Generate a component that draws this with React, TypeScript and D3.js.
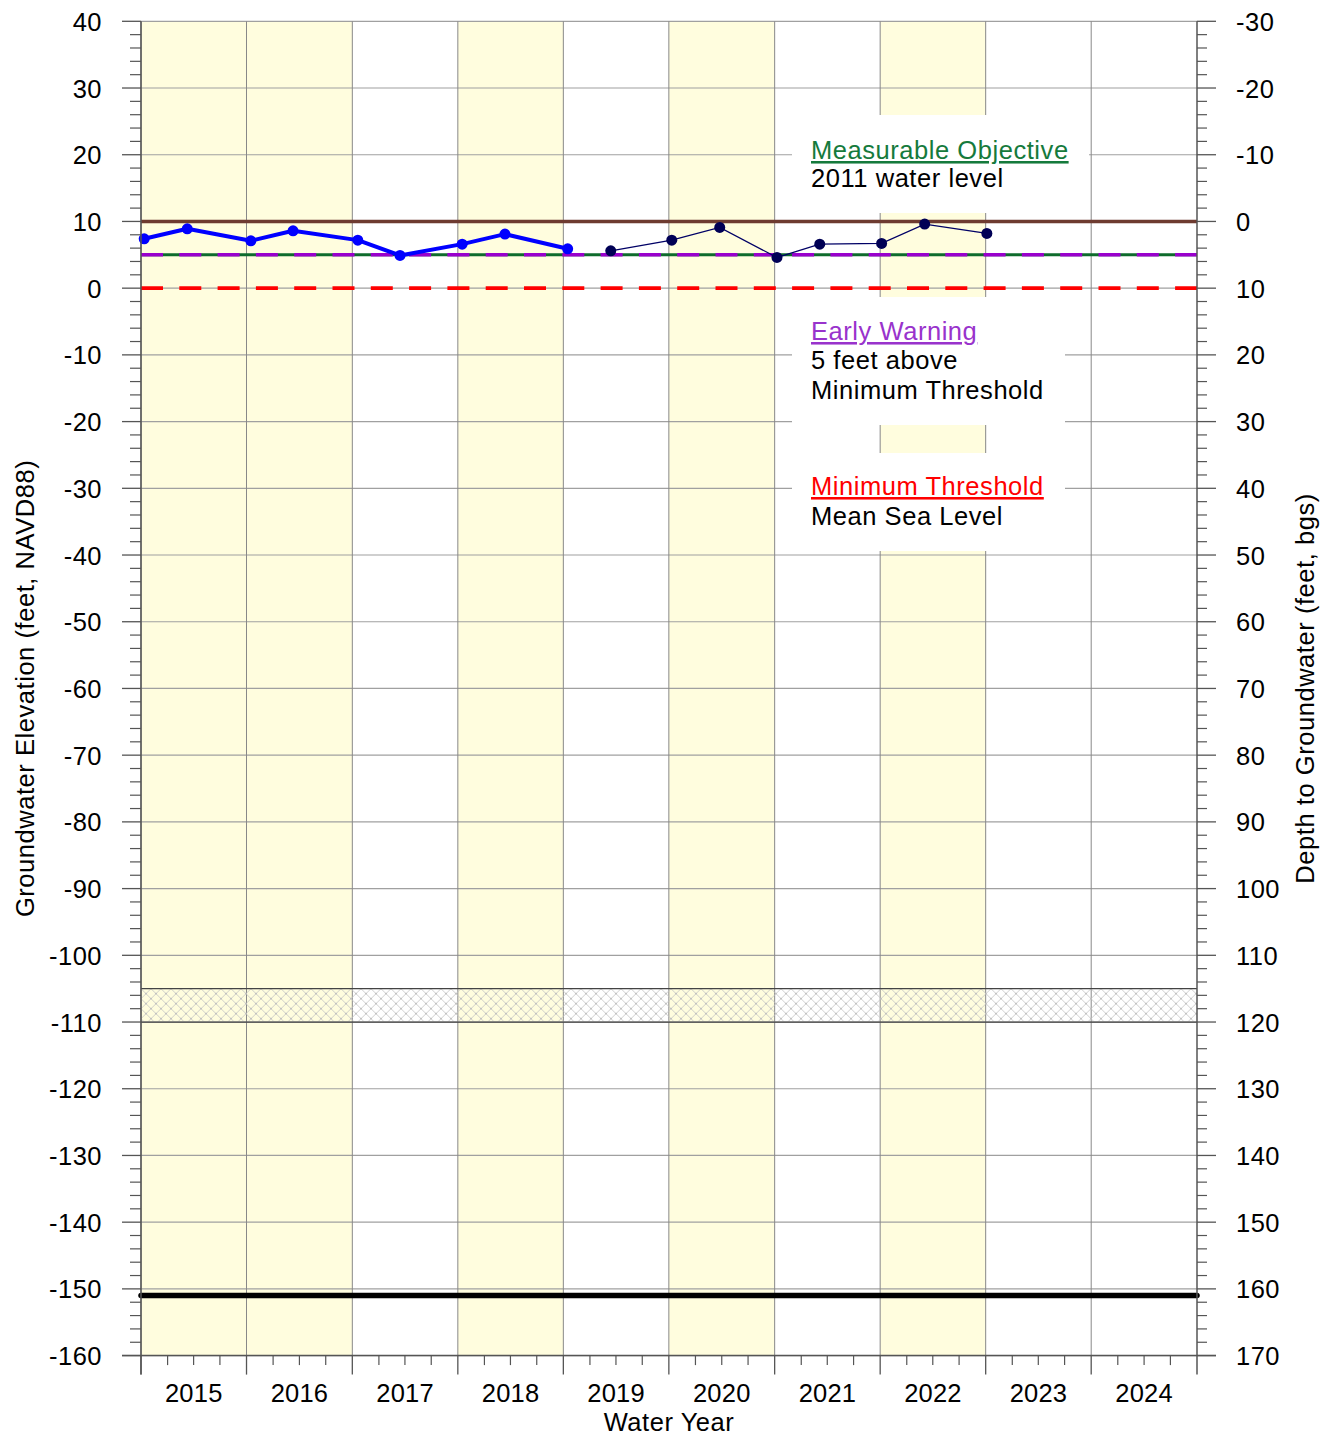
import React from "react";
import * as d3 from "d3";

const waterYears = [2015, 2016, 2017, 2018, 2019, 2020, 2021, 2022, 2023, 2024];
const shadedYears = [2015, 2016, 2018, 2020, 2022];

const series1Dates = ["2014-10-12", "2015-03-10", "2015-10-16", "2016-03-10", "2016-10-20", "2017-03-15", "2017-10-16", "2018-03-13", "2018-10-16"];
const series1Values = [7.4, 8.9, 7.1, 8.6, 7.2, 4.9, 6.6, 8.1, 5.9];

const series2Dates = ["2019-03-14", "2019-10-11", "2020-03-25", "2020-10-09", "2021-03-06", "2021-10-06", "2022-03-04", "2022-10-05"];
const series2Values = [5.6, 7.2, 9.1, 4.6, 6.6, 6.7, 9.6, 8.2];

const measurableObjective = 5;
const earlyWarning = 5;
const minimumThreshold = 0;
const groundSurface = 10;
const wellBottom = -151;
const screenTop = -105;
const screenBottom = -110;

const yDomain = [-160, 40];
const yMajorTicks = d3.range(-160, 41, 10);
const yMinorTicks = d3.range(-160, 41, 2);

const W = 1321;
const H = 1435;
const L = 141;
const R = 1197;
const T = 21.3;
const B = 1355.6;

const FONT = "Liberation Sans, Arial, sans-serif";

export default function App() {
  const parse = d3.timeParse("%Y-%m-%d");
  const x = d3.scaleTime().domain([new Date(2014, 9, 1), new Date(2024, 9, 1)]).range([L, R]);
  const y = d3.scaleLinear().domain(yDomain).range([B, T]);
  const depth = (v: number) => groundSurface - v;

  const yearStart = (wy: number) => new Date(wy - 1, 9, 1);
  const yearEnd = (wy: number) => new Date(wy, 9, 1);

  const s1 = series1Dates.map((d, i) => ({ d: parse(d) as Date, v: series1Values[i] }));
  const s2 = series2Dates.map((d, i) => ({ d: parse(d) as Date, v: series2Values[i] }));
  const line = d3.line<{ d: Date; v: number }>().x((p) => x(p.d)).y((p) => y(p.v));

  const quarterTicks: Date[] = [];
  waterYears.forEach((wy) => {
    [0, 3, 6].forEach((m) => quarterTicks.push(new Date(wy, m, 1)));
  });

  const gridColor = "#a0a0a0";
  const axisColor = "#555";
  const fs = 25.5;
  const ls = 0.55;

  const hline = (v: number) => y(v);

  return (
    <svg width={W} height={H} style={{ position: "absolute", left: 0, top: 0, background: "#fff" }} fontFamily={FONT}>
      <defs>
        <pattern id="hatch" width="10" height="10" patternUnits="userSpaceOnUse" x={L} y={y(screenTop)}>
          <path d="M0,0 L10,10 M10,0 L0,10" stroke="#c4c4c4" strokeWidth="0.8" fill="none" />
          <circle cx="5" cy="5" r="0.9" fill="#bbb" />
          <circle cx="0" cy="0" r="0.9" fill="#bbb" />
          <circle cx="10" cy="0" r="0.9" fill="#bbb" />
          <circle cx="0" cy="10" r="0.9" fill="#bbb" />
          <circle cx="10" cy="10" r="0.9" fill="#bbb" />
        </pattern>
      </defs>
      <rect x={0} y={0} width={W} height={H} fill="#fff" />
      {shadedYears.map((wy) => (
        <rect key={wy} x={x(yearStart(wy))} y={T} width={x(yearEnd(wy)) - x(yearStart(wy))} height={B - T} fill="#FFFDDE" />
      ))}
      {yMajorTicks.map((t) => (
        <line key={"hg" + t} x1={L} x2={R} y1={y(t)} y2={y(t)} stroke={gridColor} strokeWidth={1.2} />
      ))}
      {waterYears.map((wy) => (
        <line key={"vg" + wy} x1={x(yearStart(wy))} x2={x(yearStart(wy))} y1={T} y2={B} stroke="#888" strokeWidth={1} />
      ))}
      <rect x={L} y={y(screenTop)} width={R - L} height={y(screenBottom) - y(screenTop)} fill="url(#hatch)" />
      <line x1={L} x2={R} y1={y(screenTop)} y2={y(screenTop)} stroke="#444" strokeWidth={1.3} />
      <line x1={L} x2={R} y1={y(screenBottom)} y2={y(screenBottom)} stroke="#444" strokeWidth={1.3} />

      <rect x={792} y={115} width={297} height={98} fill="#fff" />
      <rect x={792} y={297} width={273} height={128} fill="#fff" />
      <rect x={792} y={453} width={273} height={98} fill="#fff" />
      <g fontSize={fs} letterSpacing={ls}>
        <text x={811} y={159} fill="#157A3C" textDecoration="underline">Measurable Objective</text>
        <text x={811} y={187} fill="#000">2011 water level</text>
        <text x={811} y={340} fill="#9933CC" textDecoration="underline">Early Warning</text>
        <text x={811} y={369} fill="#000">5 feet above</text>
        <text x={811} y={399} fill="#000">Minimum Threshold</text>
        <text x={811} y={495} fill="#FF0000" textDecoration="underline">Minimum Threshold</text>
        <text x={811} y={525} fill="#000">Mean Sea Level</text>
      </g>

      <line x1={L} x2={R} y1={hline(groundSurface)} y2={hline(groundSurface)} stroke="#6E3B30" strokeWidth={3.5} />
      <line x1={L} x2={R} y1={hline(measurableObjective)} y2={hline(measurableObjective)} stroke="#0E6B2C" strokeWidth={3} />
      <line x1={L} x2={R} y1={hline(earlyWarning)} y2={hline(earlyWarning)} stroke="#9900CC" strokeWidth={3.6} strokeDasharray="22,16.3" />
      <line x1={L} x2={R} y1={hline(minimumThreshold)} y2={hline(minimumThreshold)} stroke="#FF0000" strokeWidth={3.6} strokeDasharray="22,16.3" />
      <line x1={L} x2={R} y1={hline(wellBottom)} y2={hline(wellBottom)} stroke="#000" strokeWidth={5.5} strokeLinecap="round" />

      <path d={line(s1) || ""} fill="none" stroke="#0000FF" strokeWidth={4} strokeLinejoin="round" />
      {s1.map((p, i) => (
        <circle key={"a" + i} cx={x(p.d)} cy={y(p.v)} r={5.5} fill="#0000FF" />
      ))}
      <path d={line(s2) || ""} fill="none" stroke="#000066" strokeWidth={1.3} />
      {s2.map((p, i) => (
        <circle key={"b" + i} cx={x(p.d)} cy={y(p.v)} r={5.5} fill="#000055" />
      ))}

      <line x1={L} x2={L} y1={T} y2={B + 19} stroke={axisColor} strokeWidth={1.5} />
      <line x1={R} x2={R} y1={T} y2={B + 19} stroke={axisColor} strokeWidth={1.5} />
      <line x1={L - 19} x2={R + 19} y1={B} y2={B} stroke={axisColor} strokeWidth={1.5} />

      {yMinorTicks.filter((t) => t % 10 !== 0).map((t) => (
        <g key={"ym" + t}>
          <line x1={L - 11} x2={L} y1={y(t)} y2={y(t)} stroke={axisColor} strokeWidth={1.2} />
          <line x1={R} x2={R + 10} y1={y(t)} y2={y(t)} stroke={axisColor} strokeWidth={1.2} />
        </g>
      ))}
      {yMajorTicks.map((t) => (
        <g key={"yM" + t} fontSize={fs} letterSpacing={0.5}>
          <line x1={L - 19} x2={L} y1={y(t)} y2={y(t)} stroke={axisColor} strokeWidth={1.3} />
          <line x1={R} x2={R + 19} y1={y(t)} y2={y(t)} stroke={axisColor} strokeWidth={1.3} />
          <text x={102} y={y(t) + 9.5} textAnchor="end" fill="#000">{t}</text>
          <text x={1236} y={y(t) + 9.5} textAnchor="start" fill="#000">{depth(t)}</text>
        </g>
      ))}

      {quarterTicks.map((d, i) => (
        <line key={"xm" + i} x1={x(d)} x2={x(d)} y1={B} y2={B + 9.5} stroke={axisColor} strokeWidth={1.2} />
      ))}
      {waterYears.map((wy) => (
        <line key={"xM" + wy} x1={x(yearStart(wy))} x2={x(yearStart(wy))} y1={B} y2={B + 19} stroke={axisColor} strokeWidth={1.3} />
      ))}
      {waterYears.map((wy) => (
        <text key={"xl" + wy} x={(x(yearStart(wy)) + x(yearEnd(wy))) / 2} y={1402} fontSize={fs} letterSpacing={0.2} textAnchor="middle" fill="#000">{wy}</text>
      ))}

      <g fontSize={fs} letterSpacing={ls}>
        <text x={(L + R) / 2} y={1431} textAnchor="middle" fill="#000">Water Year</text>
        <text transform={`translate(34, ${(T + B) / 2}) rotate(-90)`} textAnchor="middle" fill="#000">Groundwater Elevation (feet, NAVD88)</text>
        <text transform={`translate(1314, ${(T + B) / 2}) rotate(-90)`} textAnchor="middle" fill="#000">Depth to Groundwater (feet, bgs)</text>
      </g>
    </svg>
  );
}
